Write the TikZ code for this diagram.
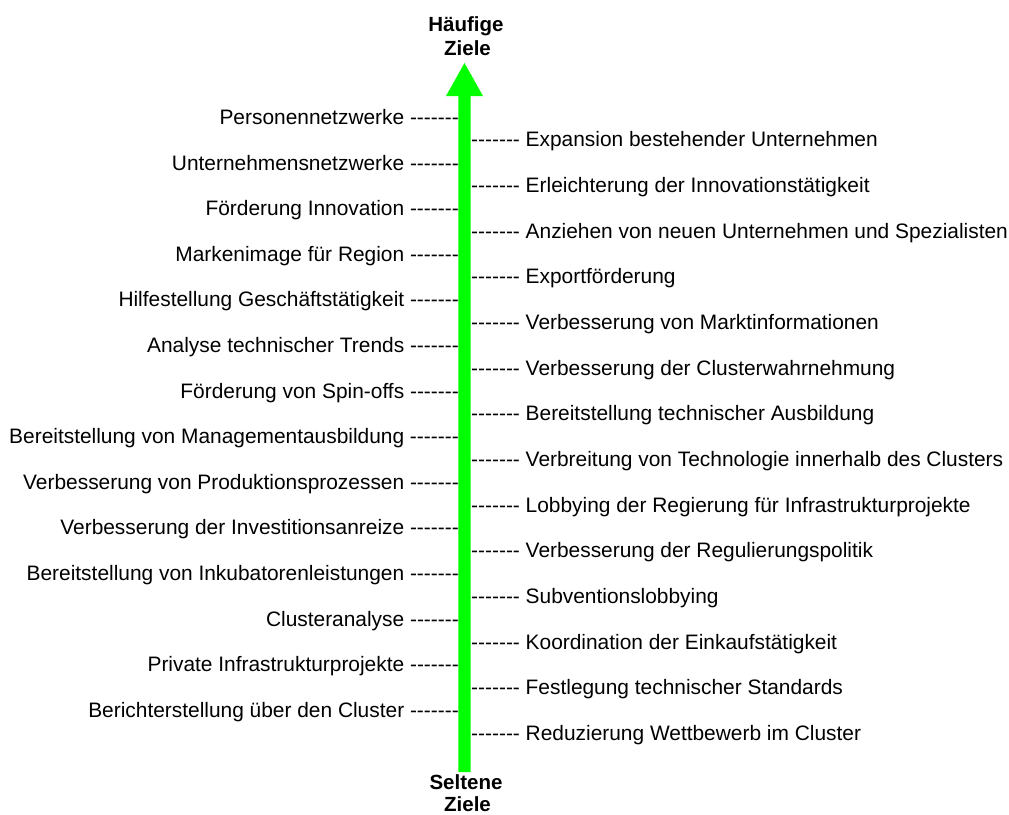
\documentclass[tikz,border=0pt]{standalone}
\usepackage{fontspec}
\newfontfamily\lab{Liberation Sans}
\definecolor{shaftgreen}{RGB}{0,255,0}
% seven separate hyphens (kerns keep them from merging into dashes)
\newcommand\hyph{-\kern0pt-\kern0pt-\kern0pt-\kern0pt-\kern0pt-\kern0pt-}

\begin{document}
\begin{tikzpicture}[x=1pt,y=-1pt,
  lbl/.style={inner sep=0pt, font=\lab\fontsize{20.9}{24}\selectfont},
  leftlbl/.style={lbl, anchor=base east},
  rightlbl/.style={lbl, anchor=base west},
  ttl/.style={inner sep=0pt, anchor=base, font=\lab\bfseries\fontsize{20.5}{23.5}\selectfont}]

\useasboundingbox (0,0) rectangle (1009,814);
\fill[white] (0,0) rectangle (1009,814);

% vertical scale arrow
\coordinate (tip) at (464.5,63);
\coordinate (tail) at (464.5,772);
\fill[shaftgreen] (tail) ++(-6.2,0) -- ++(0,-676) -- ++(-12.3,0) -- (tip)
  -- ++(18.5,33) -- ++(-12.3,0) -- ++(0,676) -- cycle;

% end labels
\node[ttl] (hf1) at (466,31) {Häufige};
\node[ttl] (hf2) at (467.5,55) {Ziele};
\node[ttl] (sl1) at (466,789) {Seltene};
\node[ttl] (sl2) at (467.5,811) {Ziele};

% left column
\foreach \t [count=\i from 0] in {
  Personennetzwerke,
  Unternehmensnetzwerke,
  Förderung Innovation,
  Markenimage für Region,
  Hilfestellung Geschäftstätigkeit,
  Analyse technischer Trends,
  Förderung von Spin-offs,
  Bereitstellung von Managementausbildung,
  Verbesserung von Produktionsprozessen,
  Verbesserung der Investitionsanreize,
  Bereitstellung von Inkubatorenleistungen,
  Clusteranalyse,
  Private Infrastrukturprojekte,
  Berichterstellung über den Cluster}
  \node[leftlbl] (l\i) at (459,{124.5+45.6*\i}) {\t\ \hyph};

% right column
\foreach \t [count=\i from 0] in {
  Expansion bestehender Unternehmen,
  Erleichterung der Innovationstätigkeit,
  Anziehen von neuen Unternehmen und Spezialisten,
  Exportförderung,
  Verbesserung von Marktinformationen,
  Verbesserung der Clusterwahrnehmung,
  Bereitstellung technischer Ausbildung,
  Verbreitung von Technologie innerhalb des Clusters,
  Lobbying der Regierung für Infrastrukturprojekte,
  Verbesserung der Regulierungspolitik,
  Subventionslobbying,
  Koordination der Einkaufstätigkeit,
  Festlegung technischer Standards,
  Reduzierung Wettbewerb im Cluster}
  \node[rightlbl] (r\i) at (471,{146.8+45.67*\i}) {\hyph\ \t};

\end{tikzpicture}
\end{document}
